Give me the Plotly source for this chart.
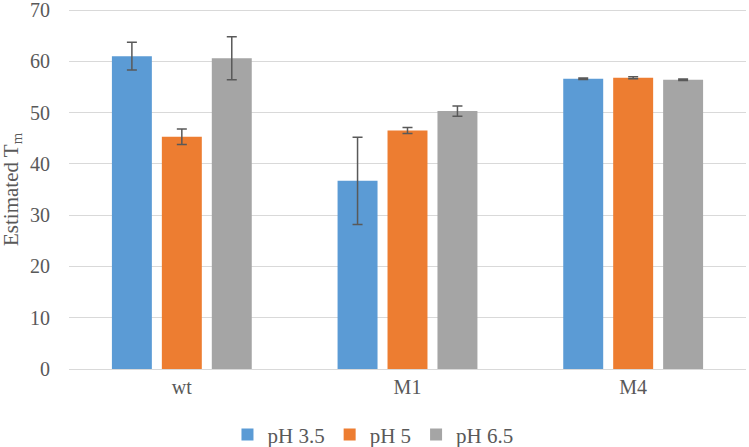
import plotly.graph_objects as go

categories = ["wt", "M1", "M4"]
series_names = ["pH 3.5", "pH 5", "pH 6.5"]
ph35 = [61.0, 36.7, 56.6]
ph35_err = [2.7, 8.5, 0.15]
ph5 = [45.3, 46.5, 56.8]
ph5_err = [1.5, 0.6, 0.2]
ph65 = [60.6, 50.3, 56.4]
ph65_err = [4.2, 1.0, 0.15]
y_ticks = [0, 10, 20, 30, 40, 50, 60, 70]
colors = ["#5b9bd5", "#ed7d31", "#a5a5a5"]

font_family = "Liberation Serif, Times New Roman, serif"
text_color = "#595959"

fig = go.Figure()
for name, vals, errs, col in zip(series_names, [ph35, ph5, ph65], [ph35_err, ph5_err, ph65_err], colors):
    fig.add_trace(go.Bar(
        x=categories, y=vals, name=name,
        marker=dict(color=col, line=dict(width=0)),
        error_y=dict(type="data", array=errs, visible=True, color="#595959", thickness=1.5, width=5),
    ))

fig.update_layout(
    width=749, height=447,
    margin=dict(l=69, r=3, t=9, b=78, autoexpand=False),
    paper_bgcolor="white", plot_bgcolor="white",
    barmode="group", bargap=0.336, bargroupgap=0.2,
    font=dict(family=font_family, color=text_color, size=20),
    legend=dict(orientation="h", x=0.449, xanchor="center", y=-0.183, yanchor="middle",
                font=dict(size=21, color=text_color), itemwidth=30, tracegroupgap=0),
    showlegend=True,
    annotations=[dict(text="Estimated T<sub>m</sub>", textangle=-90, xref="paper", yref="paper",
                      x=-57 / 677, y=0.5, xanchor="center", yanchor="middle", showarrow=False,
                      font=dict(size=21, color=text_color, family=font_family))],
)
fig.update_yaxes(range=[0, 70.2], tickvals=y_ticks, showgrid=True, gridcolor="#d9d9d9", gridwidth=1,
                 zeroline=False, showline=False, ticks="", tickfont=dict(size=20),
                 ticklabelstandoff=18, ticklabeloverflow="allow")
fig.update_xaxes(showline=True, linecolor="#d9d9d9", linewidth=1, ticks="", tickfont=dict(size=20),
                 showgrid=False)

fig.write_html("out.html")
